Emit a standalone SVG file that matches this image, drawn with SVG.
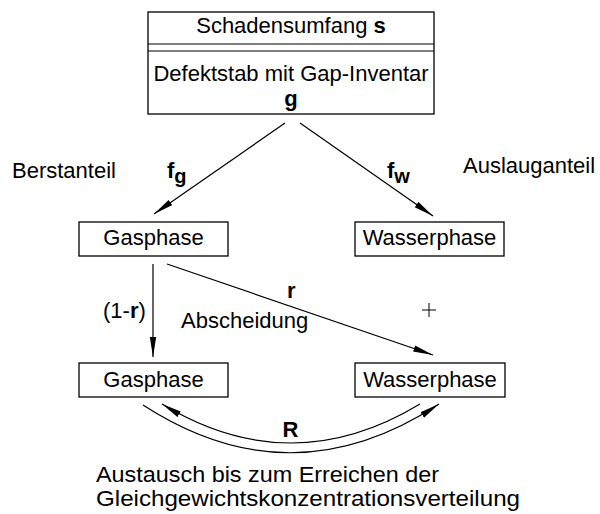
<svg xmlns="http://www.w3.org/2000/svg" width="600" height="514" viewBox="0 0 600 514">
<defs>
<style>
text{font-family:"Liberation Sans",Arial,sans-serif;font-size:22px;fill:#000}
.b{font-weight:bold}
.box{fill:#fff;stroke:#000;stroke-width:1.3}
.con{fill:none;stroke:#000;stroke-width:1.2}
</style>
<marker id="ah" markerUnits="userSpaceOnUse" markerWidth="22" markerHeight="10" refX="20" refY="4" orient="auto">
<path d="M0,0.8 L20,4 L0,7.2 Z" fill="#000"/>
</marker>
</defs>
<rect width="600" height="514" fill="#fff"/>
<g id="top">
<rect class="box" x="148" y="12" width="286" height="102"/>
<line class="con" x1="148" y1="44" x2="434" y2="44"/>
<line class="con" x1="148" y1="51" x2="434" y2="51"/>
<text x="291" y="33" text-anchor="middle">Schadensumfang <tspan class="b">s</tspan></text>
<text x="291" y="81" text-anchor="middle">Defektstab mit Gap-Inventar</text>
<text x="291" y="106" text-anchor="middle" class="b">g</text>
</g>
<g id="gas1">
<rect class="box" x="79" y="222" width="149" height="34"/>
<text x="153.5" y="245" text-anchor="middle">Gasphase</text>
</g>
<g id="wasser1">
<rect class="box" x="355" y="222" width="149" height="34"/>
<text x="429.5" y="245" text-anchor="middle">Wasserphase</text>
</g>
<g id="gas2">
<rect class="box" x="79" y="363" width="149" height="34"/>
<text x="153.5" y="387" text-anchor="middle">Gasphase</text>
</g>
<g id="wasser2">
<rect class="box" x="355" y="363" width="150" height="34"/>
<text x="430" y="387" text-anchor="middle">Wasserphase</text>
</g>
<g id="connectors">
<line class="con" x1="285" y1="123" x2="154" y2="214" marker-end="url(#ah)"/>
<line class="con" x1="300" y1="123" x2="433" y2="216" marker-end="url(#ah)"/>
<line class="con" x1="153" y1="264" x2="153" y2="357" marker-end="url(#ah)"/>
<line class="con" x1="167" y1="264" x2="433" y2="355" marker-end="url(#ah)"/>
<path class="con" d="M143,405 Q291,501 439,404" marker-end="url(#ah)"/>
<path class="con" d="M420,404 Q291,482 162,404" marker-end="url(#ah)"/>
</g>
<g id="labels">
<text x="12" y="178">Berstanteil</text>
<text x="167" y="178" class="b">f<tspan font-size="20" dy="5">g</tspan></text>
<text x="387" y="178" class="b">f<tspan font-size="20" dy="5">w</tspan></text>
<text x="463" y="173">Auslauganteil</text>
<text x="103" y="318">(1-<tspan class="b">r</tspan>)</text>
<text x="287" y="298" class="b">r</text>
<text x="181" y="328">Abscheidung</text>
<path d="M422,310 H436 M429,303 V317" stroke="#000" stroke-width="1" fill="none"/>
<text x="290.5" y="437" text-anchor="middle" class="b" font-size="20">R</text>
<text x="96" y="482" textLength="343" lengthAdjust="spacingAndGlyphs">Austausch bis zum Erreichen der</text>
<text x="96" y="506" textLength="424" lengthAdjust="spacingAndGlyphs">Gleichgewichtskonzentrationsverteilung</text>
</g>
</svg>
